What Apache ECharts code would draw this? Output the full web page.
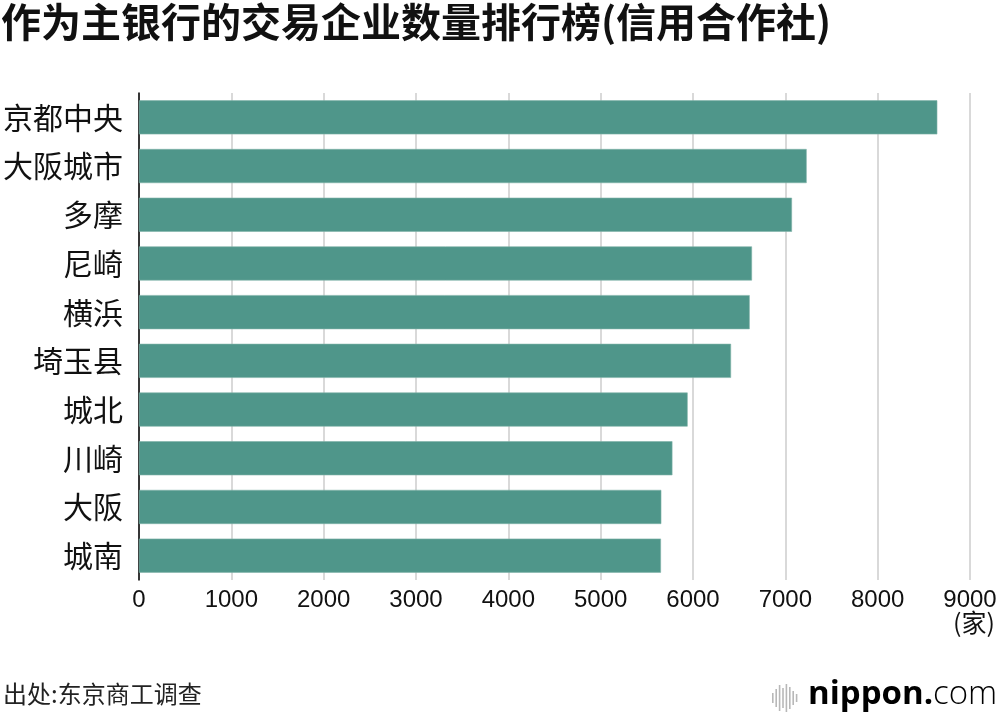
<!DOCTYPE html>
<html><head><meta charset="utf-8">
<script src="https://cdn.jsdelivr.net/npm/echarts@6/dist/echarts.min.js"></script>
<style>html,body{margin:0;padding:0;background:#fff}#c{width:1000px;height:714px}</style>
</head><body><div id="c"></div>
<script>
const categories = ['京都中央','大阪城市','多摩','尼崎','横浜','埼玉县','城北','川崎','大阪','城南'];
const values = [8646, 7231, 7072, 6639, 6614, 6412, 5942, 5777, 5657, 5653];
const xTicks = [0,1000,2000,3000,4000,5000,6000,7000,8000,9000];
const titleText = '作为主银行的交易企业数量排行榜(信用合作社)';
const sourceText = '出处:东京商工调查';
const unitText = '(家)';

const chart = echarts.init(document.getElementById('c'), null, {renderer:'canvas'});
const cjk = '"Noto Sans CJK SC","Noto Sans CJK JP",sans-serif';
const logoBars = [10,18,26,20,28,22,14,8];
const logoEls = logoBars.map((h,i)=>({type:'rect',shape:{x:772+i*3.4,y:698-h/2,width:1.6,height:h},style:{fill:'#b8b8b8'}}));
chart.setOption({
  animation:false,
  title:{text:titleText,left:1,top:2,padding:0,textStyle:{fontFamily:cjk,fontSize:40,fontWeight:'bold',color:'#111'}},
  grid:{left:139,right:30,top:93,height:487,containLabel:false},
  xAxis:{type:'value',min:0,max:9000,interval:1000,
    axisLine:{show:false},axisTick:{show:false},
    splitLine:{show:true,lineStyle:{color:'#cccccc',width:1.5}},
    axisLabel:{fontFamily:'"Liberation Sans",Arial,sans-serif',fontSize:24,color:'#111',margin:8,
      formatter:v=>xTicks.includes(v)?String(v):''}},
  yAxis:{type:'category',data:categories,inverse:true,
    axisLine:{show:true,lineStyle:{color:'#000',width:1.5}},axisTick:{show:false},
    axisLabel:{fontFamily:cjk,fontSize:30,color:'#111',margin:16}},
  series:[{type:'bar',data:values,barCategoryGap:'30%',itemStyle:{color:'#4f968a',borderColor:'#7fb1a8',borderWidth:0.6},z:3}],
  graphic:[
    {type:'text',right:5,top:610,style:{text:unitText,font:'25px '+cjk,fill:'#111'}},
    {type:'text',left:3,top:682,style:{text:sourceText,font:'24px '+cjk,fill:'#222'}},
    ...logoEls,
    {type:'text',left:808,top:678,style:{rich:{
      a:{fontFamily:'"Open Sans",sans-serif',fontWeight:'bold',fontSize:33,color:'#8a8a8a'},
      b:{fontFamily:'"Open Sans",sans-serif',fontWeight:'bold',fontSize:33,color:'#e60012'},
      c:{fontFamily:'"Open Sans",sans-serif',fontWeight:300,fontSize:33,color:'#8a8a8a'}},
      text:'{a|nippon}{b|.}{c|com}'}}
  ]
});
</script></body></html>
